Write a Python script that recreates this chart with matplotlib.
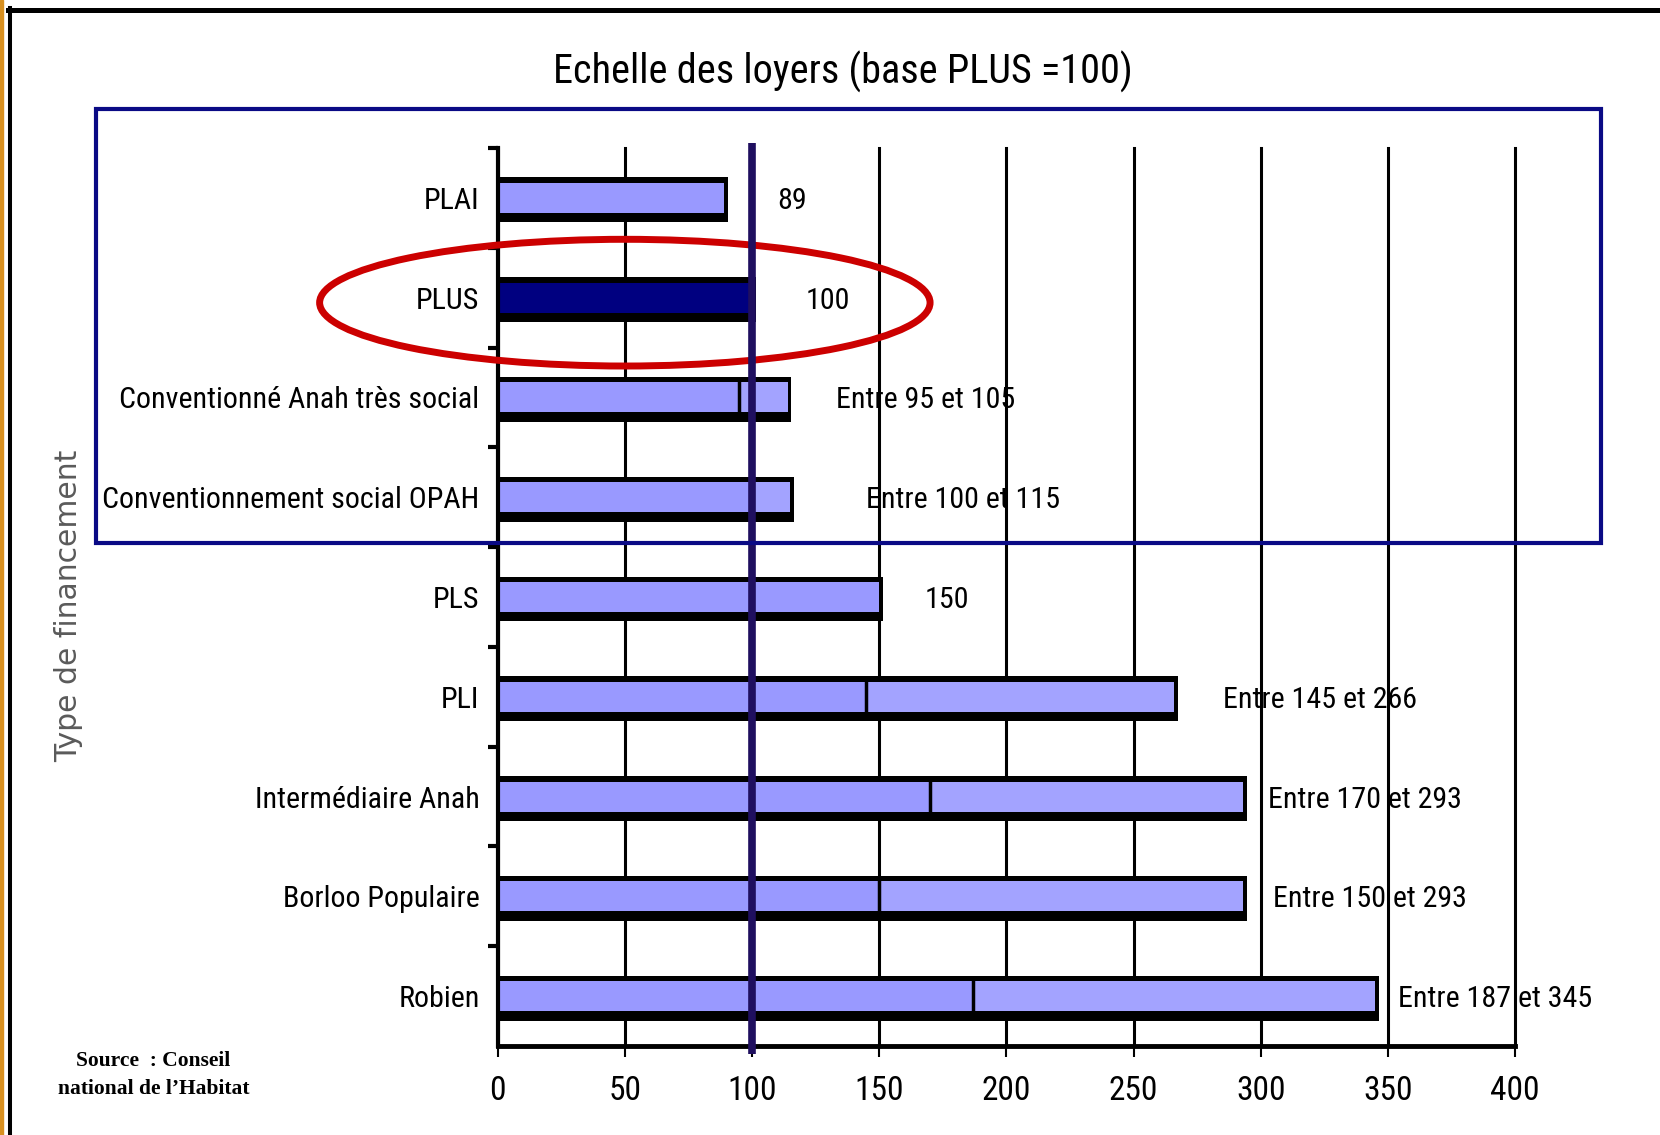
import numpy as np
import matplotlib
matplotlib.use("Agg")
import matplotlib.pyplot as plt
from matplotlib import font_manager as fm
from matplotlib.patches import Ellipse, Rectangle
from matplotlib.lines import Line2D

# the chart uses a condensed sans; take one if installed, else Liberation Sans
names = {f.name for f in fm.fontManager.ttflist}
narrow = [n for n in ['Roboto Condensed', 'Liberation Sans Narrow', 'Open Sans Condensed',
                      'DejaVu Sans Condensed'] if n in names]
condensed_dejavu = any(f.name == 'DejaVu Sans' and f.stretch == 'condensed'
                       for f in fm.fontManager.ttflist)
if narrow:
    main_font = narrow[0]
    k = 1.0
elif condensed_dejavu:
    main_font = 'DejaVu Sans'
    plt.rcParams['font.stretch'] = 'condensed'
    k = 0.83
else:
    main_font = 'Liberation Sans'
    k = 0.76
plt.rcParams['font.family'] = [main_font, 'DejaVu Sans']

# data (base PLUS = 100)
categories = ['PLAI', 'PLUS', 'Conventionné Anah très social', 'Conventionnement social OPAH',
              'PLS', 'PLI', 'Intermédiaire Anah', 'Borloo Populaire', 'Robien']
low = [89, 100, 95, 100, 150, 145, 170, 150, 187]
high = [89, 100, 114, 115, 150, 266, 293, 293, 345]
value_labels = ['89', '100', 'Entre 95 et 105', 'Entre 100 et 115', '150',
                'Entre 145 et 266', 'Entre 170 et 293', 'Entre 150 et 293', 'Entre 187 et 345']
xticks = [0, 50, 100, 150, 200, 250, 300, 350, 400]

# where the value labels sit (x in data units)
label_x = [110, 121, 133, 145, 168, 285, 303, 305, 354]

fig = plt.figure(figsize=(16.6, 11.35), dpi=100)
ax = fig.add_axes([0.2998, 0.0784, 0.6129, 0.7912])

y = np.arange(len(categories))
ax.set_xlim(0, 400)
ax.set_ylim(8.5, -0.5)

fs = 21.6 * k
for i in range(len(categories)):
    # black outline / shadow
    ax.barh(y[i] + 0.02, high[i] + 1.5, height=0.45, left=0, color='black', zorder=3)
    fc = '#000080' if categories[i] == 'PLUS' else '#9999FF'
    ax.barh(y[i], low[i], height=0.30, left=0, color=fc, zorder=4)
    if high[i] > low[i]:
        ax.barh(y[i], high[i] - low[i], height=0.30, left=low[i], color='#A3A3FF', zorder=4)
        ax.plot([low[i], low[i]], [y[i] - 0.16, y[i] + 0.16], color='black', lw=2.5, zorder=5)
    ax.text(label_x[i], y[i], value_labels[i], ha='left', va='center_baseline',
            fontsize=fs, zorder=6)

# base 100 line
ax.plot([100, 100], [-0.55, 8.58], color='#1F0F5F', lw=5.5, zorder=9,
        clip_on=False, solid_capstyle='butt')

# red ellipse round PLUS
ax.add_patch(Ellipse((50, 1.05), 240, 1.27, fill=False, ec='#CC0000', lw=5, zorder=8,
                     clip_on=False))

ax.set_xticks(xticks)
ax.set_xticklabels([str(v) for v in xticks], fontsize=24 * k)
ax.grid(axis='x', color='black', lw=2.2)
for gl in ax.get_xgridlines():
    gl.set_clip_on(False)
ax.set_axisbelow(True)
ax.tick_params(axis='x', direction='out', length=8, width=1.5, pad=13)

ax.set_yticks(y)
ax.set_yticklabels(categories, fontsize=fs)
ax.set_yticks(np.arange(-0.5, 8, 1), minor=True)
ax.tick_params(axis='y', which='major', length=0, pad=13)
ax.tick_params(axis='y', which='minor', direction='out', length=7, width=3)

for s in ['top', 'right']:
    ax.spines[s].set_visible(False)
ax.spines['left'].set_linewidth(3)
ax.spines['bottom'].set_linewidth(3.5)
ax.spines['left'].set_zorder(6)
ax.spines['bottom'].set_zorder(6)

fig.text(0.508, 0.9366, 'Echelle des loyers (base PLUS =100)', ha='center', va='center',
         fontsize=29 * k)
fig.text(0.0415, 0.466, 'Type de financement', rotation=90, ha='center', va='center',
         fontsize=21.5, color='#5a5a5a', family='DejaVu Sans', stretch='normal')
fig.text(0.0925, 0.0529, 'Source  : Conseil\nnational de l\u2019Habitat', ha='center', va='center',
         fontsize=15.5, weight='bold', family='Liberation Serif', stretch='normal',
         linespacing=1.55)

# blue frame over the social rows
fig.add_artist(Rectangle((0.058, 0.5216), 0.9064, 0.3824, transform=fig.transFigure,
                         fill=False, ec='#0A0A85', lw=3, zorder=5))

# page border
fig.add_artist(Line2D([8 / 1660, 1], [1 - 10 / 1135, 1 - 10 / 1135], transform=fig.transFigure,
                      color='black', lw=3.6))
fig.add_artist(Line2D([10 / 1660, 10 / 1660], [0, 1 - 8 / 1135], transform=fig.transFigure,
                      color='black', lw=2.9))
fig.add_artist(Rectangle((0, 0), 2.5 / 1660, 1, transform=fig.transFigure, color='#D89020'))

fig.savefig('out.png', dpi=100)
